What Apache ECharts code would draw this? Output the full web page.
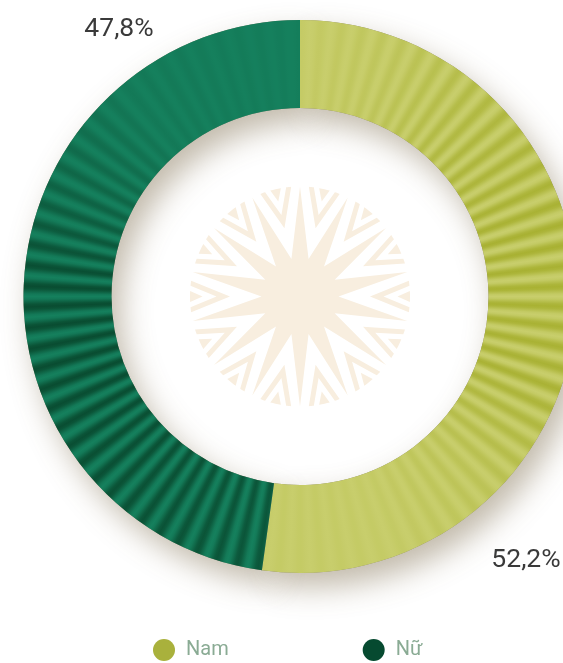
<!DOCTYPE html>
<html>
<head>
<meta charset="utf-8">
<style>html,body{margin:0;padding:0;background:#fff;overflow:hidden}#c{width:563px;height:663px}</style>
<script src="https://cdn.jsdelivr.net/npm/echarts@6/dist/echarts.min.js"></script>
</head>
<body>
<div id="c"></div>
<script>
const categories = ['Nam', 'Nữ'];
const shares = [52.2, 47.8];
const solidColors = ['#a9b13c', '#064a30'];

const W = 563, H = 663, CX = 300, CY = 296.5, R0 = 188.5, R1 = 276.5;

function lerp(a, b, t) { return a + (b - a) * t; }
function mix(c1, c2, t) {
  return 'rgb(' + [0, 1, 2].map(i => Math.round(lerp(c1[i], c2[i], t))).join(',') + ')';
}
function curve(pts, a) {
  for (let i = 1; i < pts.length; i++) {
    if (a <= pts[i][0]) {
      const t = (a - pts[i - 1][0]) / (pts[i][0] - pts[i - 1][0]);
      return lerp(pts[i - 1][1], pts[i][1], t);
    }
  }
  return pts[pts.length - 1][1];
}
// Pleated paper texture (a fill only: slices stay data-driven)
function pleats(light, dark, depth) {
  const cv = document.createElement('canvas');
  cv.width = W; cv.height = H;
  const g = cv.getContext('2d');
  const grad = g.createConicGradient(-Math.PI / 2, CX, CY);
  const ribs = 82, steps = 8;
  for (let i = 0; i < ribs; i++) {
    for (let k = 0; k < steps; k++) {
      const f = k / steps, a = (i + f) / ribs;
      const d = curve(depth, a * 360);
      const shade = 0.5 + 0.5 * Math.cos(2 * Math.PI * f);
      grad.addColorStop(a, mix(light, dark, d * shade));
    }
  }
  g.fillStyle = grad;
  g.fillRect(0, 0, W, H);
  return { image: cv, repeat: 'no-repeat' };
}
const fills = [
  pleats([200, 206, 108], [168, 177, 50],
    [[0, .12], [20, .3], [45, .75], [75, 1], [110, .95], [135, .4], [160, .12], [190, .12], [360, .1]]),
  pleats([21, 128, 93], [9, 76, 49],
    [[0, .1], [187, .8], [215, .9], [250, 1], [275, 1], [295, .55], [320, .14], [360, .05]])
];

// Central star emblem
function emblem() {
  const col = '#f8eedf', rO = 110, rV = 38.5, n = 14, out = [];
  const pts = [];
  for (let i = 0; i < n; i++) {
    const a = i / n * 2 * Math.PI, b = (i + .5) / n * 2 * Math.PI;
    pts.push([CX + rO * Math.sin(a), CY - rO * Math.cos(a)]);
    pts.push([CX + rV * Math.sin(b), CY - rV * Math.cos(b)]);
  }
  out.push({ type: 'polygon', silent: true, z: 0, shape: { points: pts }, style: { fill: col } });
  const edge = y => Math.sqrt(rO * rO - y * y);
  for (let i = 0; i < n; i++) {
    const t = (i + .5) / n * 2 * Math.PI;
    const ux = Math.sin(t), uy = -Math.cos(t), vx = Math.cos(t), vy = Math.sin(t);
    const P = (x, y) => [CX + ux * x + vx * y, CY + uy * x + vy * y];
    const arc = (y0, y1) => { const r = []; for (let k = 0; k <= 4; k++) { const y = lerp(y0, y1, k / 4); r.push(P(edge(y), y)); } return r; };
    out.push({ type: 'polygon', silent: true, z: 0, style: { fill: col }, shape: { points:
      [P(70, 0)].concat(arc(15.8, 10.8), [P(83.5, 0)], arc(-10.8, -15.8)) } });
    out.push({ type: 'polygon', silent: true, z: 0, style: { fill: col }, shape: { points:
      [P(97.5, 0)].concat(arc(5.4, -5.4)) } });
  }
  return out;
}

const pieData = categories.map((name, i) => ({ name, value: shares[i] }));
const labelSpots = { 'Nam': [526, 560], 'Nữ': [119, 29] };

const chart = echarts.init(document.getElementById('c'), null, { renderer: 'canvas', width: W, height: H });
chart.setOption({
  animation: false,
  legend: {
    left: 148, top: 634, itemWidth: 22, itemHeight: 22, itemGap: 134, icon: 'circle',
    selectedMode: false,
    textStyle: { fontFamily: 'Roboto', fontSize: 20, color: '#8aab94', padding: [2, 0, 0, 6] },
    data: categories.map((name, i) => ({ name, itemStyle: { color: solidColors[i] } }))
  },
  graphic: emblem(),
  series: [
    {
      type: 'pie', silent: true, center: [CX, CY], radius: [R0, R1], clockwise: true, startAngle: 90, z: 1,
      label: { show: false }, labelLine: { show: false },
      itemStyle: { color: '#8a8470', shadowBlur: 30, shadowOffsetX: 9, shadowOffsetY: 14, shadowColor: 'rgba(110,90,55,0.42)' },
      data: pieData
    },
    {
      type: 'pie', silent: true, center: [CX, CY], radius: [R0, R1], clockwise: true, startAngle: 90, z: 2,
      label: {
        show: true, position: 'center', color: '#3a3a3a', fontFamily: 'Roboto', fontSize: 26.5,
        formatter: p => String(p.value).replace('.', ',') + '%'
      },
      labelLine: { show: false },
      labelLayout: p => {
        const s = labelSpots[categories[p.dataIndex]];
        return { x: s[0], y: s[1], align: 'center', verticalAlign: 'middle' };
      },
      data: pieData.map((d, i) => Object.assign({}, d, { itemStyle: { color: fills[i] } }))
    }
  ]
});
</script>
</body>
</html>
